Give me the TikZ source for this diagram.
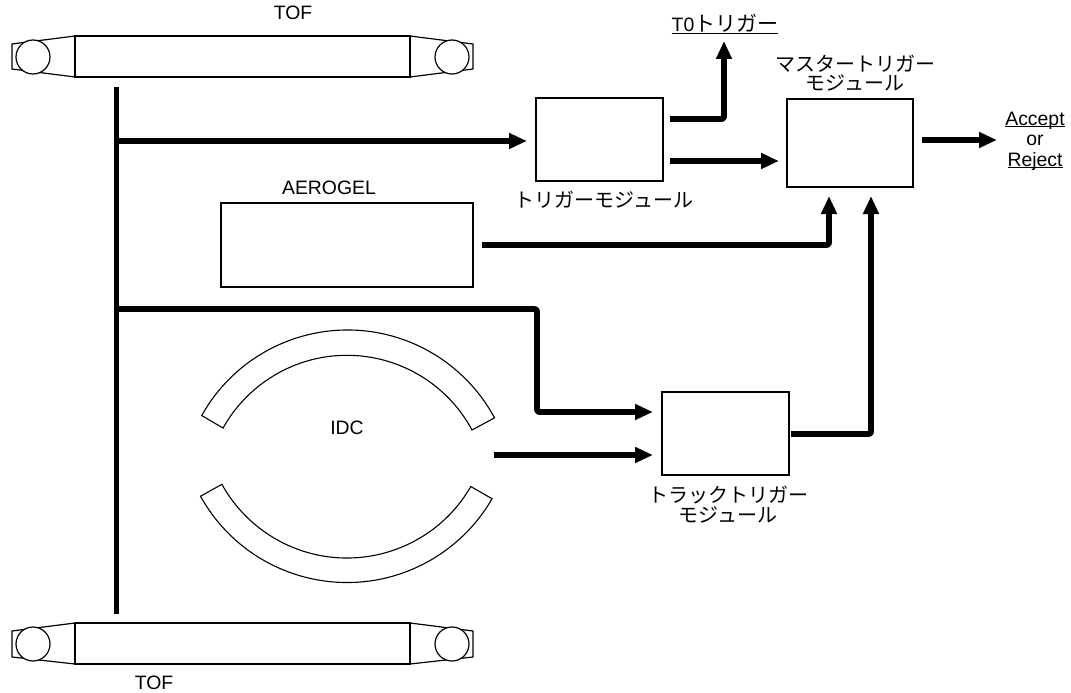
\documentclass[tikz,border=0pt]{standalone}
\usepackage{fontspec}
\setmainfont{Liberation Sans}
\newfontfamily\cjk{Noto Sans CJK JP}
\usetikzlibrary{arrows.meta}
\newcommand\ulbl[1]{\setbox0\hbox{#1}\leavevmode\rlap{\rule[-2.2pt]{\wd0}{1.1pt}}\box0 }
\tikzset{
  x=1pt,y=-1pt,
  every node/.style={inner sep=0pt,outer sep=0pt},
  thinline/.style={draw=black,line width=1.2pt,line join=miter},
  boxn/.style={thinline,fill=white,rectangle,anchor=north west},
  bus/.style={draw=black,line width=5.6pt,line cap=butt,line join=round,rounded corners=2pt},
  conn/.style={bus,-{Triangle[length=18pt,width=15pt]}},
  lbl/.style={font=\fontsize{19.4}{20.5}\selectfont,align=center},
  kana/.style={lbl,anchor=base,font=\fontsize{20}{20.5}\selectfont\cjk},
  pm/.style={thinline,circle,minimum size=34pt,fill=white},
}
\begin{document}
\begin{tikzpicture}
\useasboundingbox (0,0) rectangle (1071,693);
% TOF top
\node[boxn,minimum width=335pt,minimum height=41pt] (toft) at (75,36) {};
\draw[thinline] (toft.north west) -- (12,44) -- (12,69) -- (toft.south west);
\draw[thinline] (toft.north east) -- (473,44) -- (473,69) -- (toft.south east);
\node[pm] (pm1) at (33,57) {};
\node[pm] (pm2) at (452,57) {};
% TOF bottom
\node[boxn,minimum width=335pt,minimum height=41pt] (tofb) at (75,623) {};
\draw[thinline] (tofb.north west) -- (12,631) -- (12,657) -- (tofb.south west);
\draw[thinline] (tofb.north east) -- (473,631) -- (473,657) -- (tofb.south east);
\node[pm] (pm3) at (33,644) {};
\node[pm] (pm4) at (452,644) {};
\node[lbl,anchor=base] (toftl) at (293,20) {TOF};
\node[lbl,anchor=base] (tofbl) at (154,689) {TOF};
% boxes
\node[boxn,minimum width=127pt,minimum height=83pt] (trig) at (536,98) {};
\node[boxn,minimum width=126pt,minimum height=88pt] (master) at (787,99) {};
\node[boxn,minimum width=252pt,minimum height=84pt] (aero) at (221,203) {};
\node[boxn,minimum width=127pt,minimum height=83pt] (track) at (662,392) {};
% labels
\node[lbl,anchor=base] (aerol) at (329,194) {AEROGEL};
\node[lbl,anchor=base] (idcl) at (347,434) {IDC};
\node[lbl,anchor=base] (t0) at (725,32) {\ulbl{T0{\cjk\fontsize{21}{21}\selectfont トリガー}}};
\node[kana] (trigl) at (604,207) {トリガーモジュール};
\node[kana] (masterl) at (855,71) {マスタートリガー};
\node[kana] (masterl2) at (855,91) {モジュール};
\node[kana] (trackl) at (728,502) {トラックトリガー};
\node[kana] (trackl2) at (728,522) {モジュール};
\node[lbl,anchor=base] (acc) at (1035,125) {\ulbl{Accept}};
\node[lbl,anchor=base] (orl) at (1035,145) {or};
\node[lbl,anchor=base] (rej) at (1035,166) {\ulbl{Reject}};
% IDC arcs
\draw[thinline,line width=1.1pt] (347.5,497) ++(209.2:167) arc[start angle=209.2,end angle=331.7,radius=167]
  -- (472,430) arc[start angle=331.7,end angle=209.2,radius=142] -- cycle;
\draw[thinline,line width=1.1pt] (347,415) ++(151:167.5) arc[start angle=151,end angle=30,radius=167.5]
  -- (470.8,486.5) arc[start angle=30,end angle=151,radius=143] -- cycle;
% bus and connectors
\coordinate (bt) at (116.5,87);
\coordinate (bb) at (116.5,614);
\coordinate (b1) at (116.5,141);
\coordinate (b2) at (116.5,309);
\draw[bus] (bt) -- (bb);
\draw[conn] (b1) -- (527,141);
\draw[conn] (b2) -- (537,309) -- (537,412) -- (653,412);
\coordinate (idcout) at (494,455);
\draw[conn] (idcout) -- (653,455);
\coordinate (to1) at (670,119);
\draw[conn] (to1) -- (724,119) -- (724,41);
\coordinate (to2) at (670,161);
\draw[conn] (to2) -- (779,161);
\coordinate (mo) at (922,140);
\draw[conn] (mo) -- (997,140);
\coordinate (ao) at (482,245);
\draw[conn] (ao) -- (829,245) -- (829,196);
\coordinate (tr) at (791,434);
\draw[conn] (tr) -- (871,434) -- (871,196);
\end{tikzpicture}
\end{document}
